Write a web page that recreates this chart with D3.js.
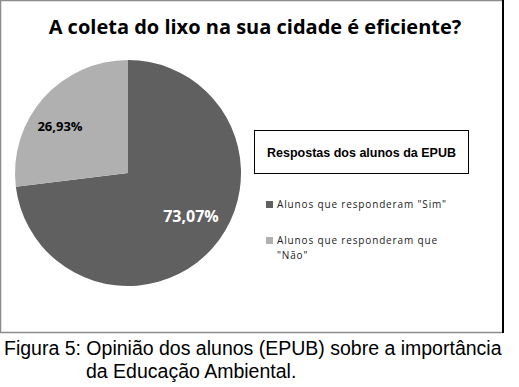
<!doctype html>
<html lang="pt">
<head>
<meta charset="utf-8">
<title>A coleta do lixo</title>
<script src="https://d3js.org/d3.v7.min.js"></script>
<style>
  body { margin: 0; background: #fff; }
  svg text { font-family: "Open Sans", "DejaVu Sans", sans-serif; }
</style>
</head>
<body>
<div id="chart"></div>
<script>
// dados
var respostas = ["Alunos que responderam \"Sim\"", "Alunos que responderam que \"Não\""];
var valores = [73.07, 26.93];
var rotulos = ["73,07%", "26,93%"];
var cores = ["#606060", "#b0b0b0"];

var width = 519, height = 387;
var svg = d3.select("#chart").append("svg")
  .attr("width", width)
  .attr("height", height);

// moldura do gráfico
svg.append("path")
  .attr("d", "M503,0.5 H0.5 V332.5 H503")
  .attr("fill", "none")
  .attr("stroke", "#8c8c8c")
  .attr("stroke-width", 1.5);
svg.append("line")
  .attr("x1", 503).attr("x2", 503)
  .attr("y1", 0).attr("y2", 333)
  .attr("stroke", "#000")
  .attr("stroke-width", 2);

svg.append("text")
  .attr("x", 255).attr("y", 34)
  .attr("text-anchor", "middle")
  .style("font-size", "20px")
  .style("font-weight", "bold")
  .text("A coleta do lixo na sua cidade é eficiente?");

var pie = d3.pie().sort(null);
var arc = d3.arc().innerRadius(0).outerRadius(113);
var arcs = pie(valores);

var g = svg.append("g").attr("transform", "translate(128,173)");
g.selectAll("path")
  .data(arcs)
  .enter().append("path")
  .attr("d", arc)
  .attr("fill", function(d, i) { return cores[i]; });

var labelPos = [[63, 49], [-68, -42]];
g.selectAll("text.pct")
  .data(arcs)
  .enter().append("text")
  .attr("class", "pct")
  .attr("x", function(d, i) { return labelPos[i][0]; })
  .attr("y", function(d, i) { return labelPos[i][1]; })
  .attr("text-anchor", "middle")
  .style("font-weight", "bold")
  .style("font-size", function(d, i) { return i === 0 ? "16px" : "13px"; })
  .attr("fill", function(d, i) { return i === 0 ? "#fff" : "#000"; })
  .text(function(d, i) { return rotulos[i]; });

// legenda
svg.append("rect")
  .attr("x", 254.5).attr("y", 130.5)
  .attr("width", 214).attr("height", 43)
  .attr("fill", "none")
  .attr("stroke", "#000")
  .attr("stroke-width", 1);
svg.append("text")
  .attr("x", 267).attr("y", 157)
  .style("font-family", "'Liberation Sans', Arial, sans-serif")
  .style("font-size", "12.5px")
  .style("font-weight", "bold")
  .text("Respostas dos alunos da EPUB");

var linhas = [["Alunos que responderam \"Sim\""], ["Alunos que responderam que", "\"Não\""]];
var legY = [208, 244];
var leg = svg.selectAll("g.leg")
  .data(respostas)
  .enter().append("g")
  .attr("class", "leg")
  .attr("transform", function(d, i) { return "translate(266," + legY[i] + ")"; });
leg.append("rect")
  .attr("x", 0).attr("y", -7)
  .attr("width", 7).attr("height", 7)
  .attr("fill", function(d, i) { return cores[i]; });
leg.selectAll("text")
  .data(function(d, i) { return linhas[i]; })
  .enter().append("text")
  .attr("x", 11)
  .attr("y", function(d, j) { return j * 15; })
  .style("font-size", "10px")
  .style("letter-spacing", "0.85px")
  .attr("fill", "#222")
  .text(function(d) { return d; });

// legenda da figura
svg.append("text")
  .attr("x", 4).attr("y", 355)
  .style("font-family", "'Liberation Sans', Arial, sans-serif")
  .style("font-size", "19.5px")
  .text("Figura 5: Opinião dos alunos (EPUB) sobre a importância");
svg.append("text")
  .attr("x", 86).attr("y", 378)
  .style("font-family", "'Liberation Sans', Arial, sans-serif")
  .style("font-size", "19.5px")
  .text("da Educação Ambiental.");
</script>
</body>
</html>
